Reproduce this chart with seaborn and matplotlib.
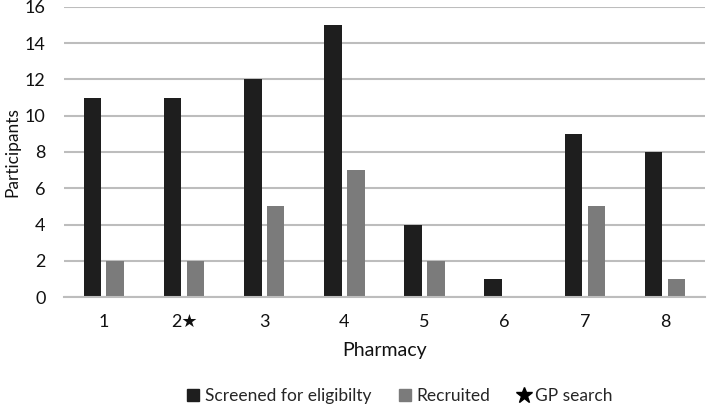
import pandas as pd
import matplotlib.pyplot as plt
import seaborn as sns
from matplotlib.lines import Line2D
from matplotlib.patches import Patch

# Data
pharmacies = ['1', '2\u2605', '3', '4', '5', '6', '7', '8']
screened = [11, 11, 12, 15, 4, 1, 9, 8]
recruited = [2, 2, 5, 7, 2, 0, 5, 1]
series = ['Screened for eligibilty', 'Recruited']
colors = ['#1e1e1e', '#7b7b7b']

df = pd.DataFrame({
    'Pharmacy': pharmacies * 2,
    'Participants': screened + recruited,
    'Series': [series[0]] * len(pharmacies) + [series[1]] * len(pharmacies),
})

sns.set_style('white')
plt.rcParams['font.family'] = ['Lato', 'DejaVu Sans']

fig = plt.figure(figsize=(7.08, 4.08), dpi=100)
ax = fig.add_axes([0.09, 0.272, 0.906, 0.711])

sns.barplot(data=df, x='Pharmacy', y='Participants', hue='Series',
            palette=colors, width=0.57, gap=0.23, ax=ax, legend=False,
            saturation=1, linewidth=0)

ax.set_ylim(0, 16)
ax.set_yticks(range(0, 17, 2))
ax.set_xlim(-0.5, len(pharmacies) - 0.5)
ax.yaxis.grid(True, color='#bdbdbd', linewidth=1.5)
ax.set_axisbelow(True)
for s in ['top', 'right', 'left']:
    ax.spines[s].set_visible(False)
ax.spines['bottom'].set_color('#bdbdbd')
ax.spines['bottom'].set_linewidth(1.5)
ax.tick_params(axis='both', length=0, labelsize=13, colors='#111111')
ax.tick_params(axis='x', pad=12)
ax.tick_params(axis='y', pad=13)
ax.set_xlabel('Pharmacy', fontsize=14, labelpad=9, color='#111111')
ax.set_ylabel('Participants', fontsize=12.5, labelpad=3, color='#111111')

handles = [Patch(color=colors[0]), Patch(color=colors[1]),
           Line2D([], [], marker='*', color='black', linestyle='', markersize=12)]
labels = series + ['GP search']
fig.legend(handles, labels, loc='center', bbox_to_anchor=(0.565, 0.03), ncol=3,
           frameon=False, fontsize=12.5, handlelength=0.7, handletextpad=0.3,
           columnspacing=1.6)

fig.savefig('out.png', dpi=100)
